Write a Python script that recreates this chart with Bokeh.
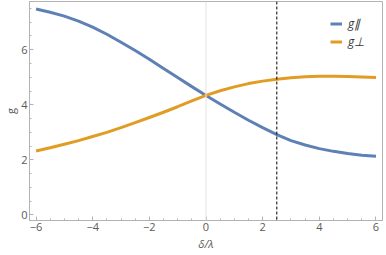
from bokeh.plotting import figure
from bokeh.models import FixedTicker, Span, Legend, LegendItem, Range1d
from bokeh.embed import file_html
from bokeh.resources import INLINE

x = [-6, -5.5, -5, -4.5, -4, -3.5, -3, -2.5, -2, -1.5, -1, -0.5, 0,
     0.5, 1, 1.5, 2, 2.5, 3, 3.5, 4, 4.5, 5, 5.5, 6]
g_par = [7.48, 7.36, 7.22, 7.04, 6.82, 6.56, 6.27, 5.97, 5.65, 5.32, 4.99, 4.66, 4.34,
         4.03, 3.73, 3.44, 3.17, 2.92, 2.70, 2.54, 2.41, 2.31, 2.23, 2.17, 2.13]
g_perp = [2.32, 2.44, 2.57, 2.70, 2.85, 3.00, 3.17, 3.35, 3.54, 3.73, 3.93, 4.14, 4.34,
          4.51, 4.65, 4.77, 4.86, 4.93, 4.98, 5.02, 5.04, 5.04, 5.03, 5.01, 4.99]
x_ticks = [-6, -4, -2, 0, 2, 4, 6]
y_ticks = [0, 2, 4, 6]
x_minor = [v / 2 for v in range(-12, 13)]
y_minor = [v / 2 for v in range(0, 16)]
marker_x = 2.5

BLUE = "#5E81B5"
ORANGE = "#E19C24"
FRAME = "#b3b3b3"
LABEL = "#5a5a5a"
FONT = "Open Sans"

p = figure(width=384, height=253, output_backend="svg", toolbar_location=None,
           x_range=Range1d(-6.23, 6.23), y_range=Range1d(-0.2, 7.75),
           min_border_left=0, min_border_right=2, min_border_top=1, min_border_bottom=0)
p.grid.visible = False
p.outline_line_color = FRAME
p.background_fill_color = "white"
p.border_fill_color = "white"

for ax in (p.xaxis[0], p.yaxis[0]):
    ax.axis_line_color = FRAME
    ax.major_tick_line_color = FRAME
    ax.minor_tick_line_color = FRAME
    ax.major_tick_in = 4
    ax.major_tick_out = 0
    ax.minor_tick_in = 2
    ax.minor_tick_out = 0
    ax.major_label_text_color = LABEL
    ax.major_label_text_font = FONT
    ax.major_label_text_font_size = "11px"
    ax.axis_label_text_color = LABEL
    ax.axis_label_text_font = FONT
    ax.axis_label_text_font_size = "11px"
    ax.axis_label_text_font_style = "italic"
    ax.major_label_standoff = 2
    ax.axis_label_standoff = 0

p.xaxis[0].axis_label_standoff = 2
p.xaxis[0].ticker = FixedTicker(ticks=x_ticks, minor_ticks=x_minor)
p.yaxis[0].ticker = FixedTicker(ticks=y_ticks, minor_ticks=y_minor)
p.xaxis[0].major_label_overrides = {t: ("\u2212" + str(-t) if t < 0 else str(t)) for t in x_ticks}
p.xaxis[0].axis_label = "δ/λ"
p.yaxis[0].axis_label = "g"
p.yaxis[0].axis_label_text_font_style = "normal"

p.add_layout(Span(location=0, dimension="height", line_color="#e3e3e3", line_width=1))
p.add_layout(Span(location=marker_x, dimension="height", line_color="black",
                  line_width=1, line_dash="3 2"))

r1 = p.line(x, g_par, line_color=BLUE, line_width=3)
r2 = p.line(x, g_perp, line_color=ORANGE, line_width=3)

legend = Legend(items=[LegendItem(label="g∥", renderers=[r1]),
                       LegendItem(label="g⊥", renderers=[r2])],
                location="top_right", border_line_alpha=0, background_fill_alpha=0,
                label_text_font=FONT, label_text_font_size="12px",
                label_text_font_style="italic", label_text_color="#333333",
                glyph_width=12, glyph_height=13, spacing=1, padding=4,
                margin=12, label_standoff=6, label_height=13)
legend.margin = 10
p.add_layout(legend)

open("out.html", "w").write(file_html(p, INLINE))
